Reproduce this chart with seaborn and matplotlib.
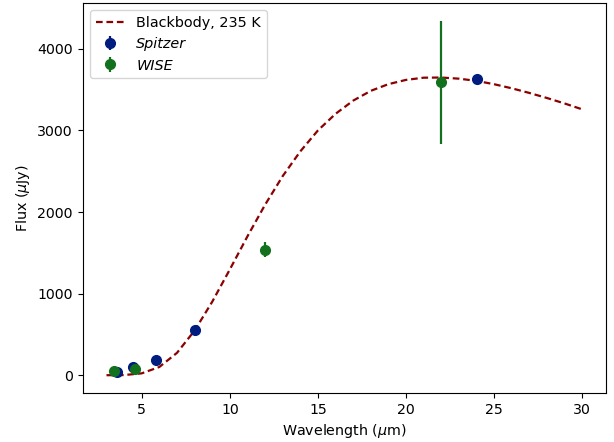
import matplotlib
matplotlib.use("Agg")
import matplotlib.pyplot as plt
import seaborn as sns
import pandas as pd

# Blackbody curve
bb_wave = [3, 4, 5, 6, 7, 8, 9, 10, 11, 12, 13, 14, 15, 16, 17, 18, 19, 20,
           21, 22, 23, 24, 25, 26, 27, 28, 29, 30]
bb_flux = [0, 2, 23, 101, 274, 547, 900, 1296, 1702, 2089, 2440, 2743, 3000,
           3203, 3365, 3485, 3567, 3619, 3646, 3648, 3634, 3607, 3566, 3516,
           3459, 3397, 3330, 3258]

# Spitzer photometry
spitzer_wave = [3.6, 4.5, 5.8, 8.0, 24.0]
spitzer_flux = [38, 97, 184, 553, 3625]
spitzer_err = [5, 8, 10, 15, 30]

# WISE photometry
wise_wave = [3.4, 4.6, 12.0, 22.0]
wise_flux = [49, 76, 1538, 3588]
wise_err = [5, 8, 95, 755]

pal = sns.color_palette("dark")
blue, green = pal[0], pal[2]

fig = plt.figure(figsize=(6.14, 4.42), dpi=100)
ax = fig.add_axes([0.1347, 0.111, 0.8523, 0.882])

bb = pd.DataFrame({"wave": bb_wave, "flux": bb_flux})
sns.lineplot(data=bb, x="wave", y="flux", ax=ax, color="darkred",
             linestyle=(0, (3.0, 1.7)), linewidth=1.6, label="Blackbody, 235 K")

ax.errorbar(spitzer_wave, spitzer_flux, yerr=spitzer_err, fmt="o", color=blue,
            markersize=7, elinewidth=1.6, capsize=0, label="Spitzer")
ax.errorbar(wise_wave, wise_flux, yerr=wise_err, fmt="o", color=green,
            markersize=7, elinewidth=1.6, capsize=0, label="WISE")

ax.set_xlabel(r"Wavelength ($\mu$m)", fontsize=10.3)
ax.set_ylabel(r"Flux ($\mu$Jy)", fontsize=10.3)
ax.set_xticks([5, 10, 15, 20, 25, 30])
ax.set_yticks([0, 1000, 2000, 3000, 4000])
ax.tick_params(labelsize=10.2)

leg = ax.legend(loc="upper left", fontsize=10.4)
for t in leg.get_texts()[1:]:
    t.set_style("italic")

fig.savefig("out.png", dpi=100)
